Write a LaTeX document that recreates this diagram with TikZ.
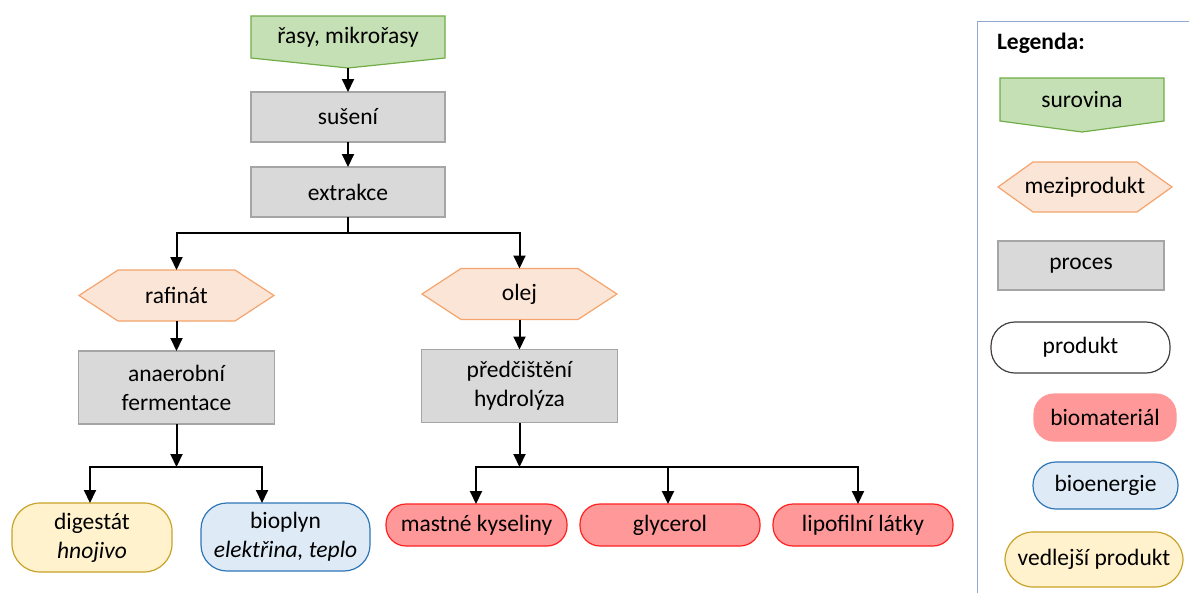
\documentclass[tikz,border=0pt]{standalone}
\usepackage{fontspec}
\setmainfont{Carlito}
\usetikzlibrary{arrows.meta,backgrounds,calc}

\definecolor{rawfill}{HTML}{C5E0B4}
\definecolor{rawline}{HTML}{70AD47}
\definecolor{midfill}{HTML}{FBE5D6}
\definecolor{midline}{HTML}{F4A46C}
\definecolor{procfill}{HTML}{D9D9D9}
\definecolor{procline}{HTML}{A5A5A5}
\definecolor{matfill}{HTML}{FF9999}
\definecolor{matline}{HTML}{FF2020}
\definecolor{enfill}{HTML}{DEEBF7}
\definecolor{enline}{HTML}{2E75B6}
\definecolor{byfill}{HTML}{FFF2CC}
\definecolor{byline}{HTML}{C9A227}
\definecolor{prodline}{HTML}{404040}
\definecolor{legline}{HTML}{8FA8CC}

\begin{document}
\begin{tikzpicture}[x=1pt,y=-1pt,
  font=\fontsize{23.5}{29}\selectfont,
  base/.style={inner sep=0pt, outer sep=0pt, align=center, text=black},
  shapeline/.style={line width=1.2pt},
  rawshape/.style={shapeline, draw=rawline, fill=rawfill},
  midshape/.style={shapeline, draw=midline, fill=midfill},
  procbox/.style={base, shapeline, draw=procline, fill=procfill},
  prodbox/.style={base, shapeline, draw=prodline, fill=white, rounded corners=24pt},
  matbox/.style={base, shapeline, draw=matline, fill=matfill, rounded corners=20pt},
  enbox/.style={base, shapeline, draw=enline, fill=enfill, rounded corners=26pt},
  bybox/.style={base, shapeline, draw=byline, fill=byfill, rounded corners=28pt},
  conn/.style={line width=2pt, black},
  arr/.style={conn, -{Triangle[width=12pt,length=13pt]}},
]
\useasboundingbox (0,0) rectangle (1189,592);

% ---------- main flow ----------
\node[base, minimum width=194pt, minimum height=42pt] (rasy) at (348,37) {řasy, mikrořasy};
\coordinate (rasytip) at ($(rasy.south)+(0,10)$);
\begin{pgfonlayer}{background}
  \draw[rawshape] (rasy.north west) -- (rasy.north east) -- (rasy.south east)
    -- (rasytip) -- (rasy.south west) -- cycle;
\end{pgfonlayer}

\node[procbox, minimum width=194pt, minimum height=50pt] (suseni) at (348,117) {sušení};
\node[procbox, minimum width=194pt, minimum height=50pt] (extr) at (348,192) {extrakce};

\node[base, minimum width=195pt, minimum height=51pt] (raf) at (176.5,295.5) {rafinát};
\node[base, minimum width=195pt, minimum height=51pt] (olej) at (519.5,294) {olej};
\begin{pgfonlayer}{background}
  \foreach \h in {raf,olej}{
    \draw[midshape] (\h.west) -- ([xshift=39pt]\h.north west) -- ([xshift=-39pt]\h.north east)
      -- (\h.east) -- ([xshift=-39pt]\h.south east) -- ([xshift=39pt]\h.south west) -- cycle;
  }
\end{pgfonlayer}

\node[procbox, minimum width=196pt, minimum height=73pt] (anaer) at (176.5,387.5) {anaerobní\\fermentace};
\node[procbox, minimum width=196pt, minimum height=73pt] (predc) at (519.5,386) {předčištění\\hydrolýza};

\node[bybox, minimum width=160pt, minimum height=69pt] (dig) at (92,537.5) {digestát\\\textit{hnojivo}};
\node[enbox, minimum width=169pt, minimum height=68pt] (bio) at (285.5,537) {bioplyn\\\textit{elektřina, teplo}};

\node[matbox, minimum width=181pt, minimum height=42pt] (mast) at (476.5,525) {mastné kyseliny};
\node[matbox, minimum width=180pt, minimum height=42pt] (glyc) at (670,525) {glycerol};
\node[matbox, minimum width=180pt, minimum height=42pt] (lipo) at (863,525) {lipofilní látky};

% ---------- connectors ----------
\draw[arr] (rasytip) -- (suseni.north);
\draw[arr] (suseni.south) -- (extr.north);

\coordinate (jtop) at (348,233);
\draw[conn] (extr.south) -- (jtop);
\draw[arr] (jtop) -| (raf.north);
\draw[arr] (jtop) -| (olej.north);

\draw[arr] (raf.south) -- (anaer.north);
\draw[arr] (olej.south) -- (predc.north);

\coordinate (jleft) at (176.5,467);
\draw[arr] (anaer.south) -- (jleft);
\draw[arr] (jleft) -| ([xshift=-2pt]dig.north);
\draw[arr] (jleft) -| ([xshift=-23.5pt]bio.north);

\coordinate (jright) at (519.5,467);
\draw[arr] (predc.south) -- (jright);
\draw[arr] (jright) -| ([xshift=-0.5pt]mast.north);
\draw[arr] (jright) -| ([xshift=-2pt]glyc.north);
\draw[arr] (jright) -| ([xshift=-5pt]lipo.north);

% ---------- legend ----------
\draw[legline, line width=1pt] (1195,21) -- (977,21) -- (977,600);
\node[base, anchor=west, font=\fontsize{23.5}{28}\selectfont\bfseries] (legtitle) at (997,43) {Legenda:};

\node[base, minimum width=164pt, minimum height=43pt] (lraw) at (1082,99.5) {surovina};
\coordinate (lrawtip) at ($(lraw.south)+(0,11)$);
\node[base, minimum width=174pt, minimum height=50pt] (lmid) at (1085,187) {meziprodukt};
\begin{pgfonlayer}{background}
  \draw[rawshape] (lraw.north west) -- (lraw.north east) -- (lraw.south east)
    -- (lrawtip) -- (lraw.south west) -- cycle;
  \draw[midshape] (lmid.west) -- ([xshift=35pt]lmid.north west) -- ([xshift=-35pt]lmid.north east)
    -- (lmid.east) -- ([xshift=-35pt]lmid.south east) -- ([xshift=35pt]lmid.south west) -- cycle;
\end{pgfonlayer}
\node[procbox, minimum width=166pt, minimum height=49pt] (lproc) at (1081,265.5) {proces};
\node[prodbox, minimum width=179pt, minimum height=51pt] (lprod) at (1080.5,347.5) {produkt};
\node[matbox, draw=matfill, minimum width=142pt, minimum height=47pt] (lmat) at (1105,417.5) {biomateriál};
\node[enbox, rounded corners=23pt, minimum width=145pt, minimum height=47pt] (len) at (1105.5,485.5) {bioenergie};
\node[bybox, minimum width=178pt, minimum height=55pt] (lby) at (1094,559.5) {vedlejší produkt};
\end{tikzpicture}
\end{document}
